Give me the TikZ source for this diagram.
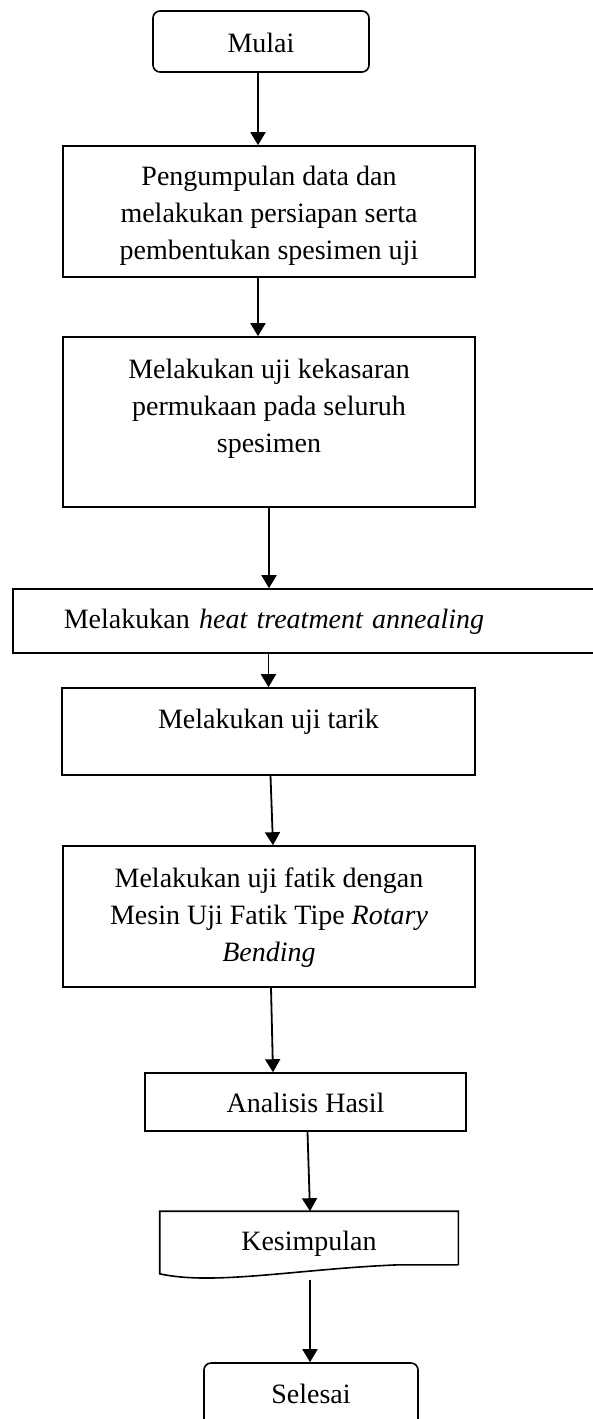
\documentclass[tikz,border=0pt]{standalone}
\usepackage{fontspec}
\setmainfont{Liberation Serif}
\usetikzlibrary{arrows.meta,calc}

\tikzset{
  box/.style={draw,line width=1.6pt,inner sep=0pt,align=center,
    font=\fontsize{28}{37}\selectfont},
  term/.style={box,rounded corners=7pt},
  flow/.style={-{Triangle[length=13pt,width=15pt]},line width=1.8pt}
}

\begin{document}
\begin{tikzpicture}[x=1pt,y=-1pt]
    \useasboundingbox (0,0) rectangle (592,1419);
    % Steps:
    \node[term,minimum width=216pt,text height=41pt,text depth=20pt] (start) at (261,41.5) {Mulai};
    \node[box,minimum width=412pt,text height=113pt,text depth=18pt] (collect) at (269,211.5)
      {Pengumpulan data dan\\melakukan persiapan serta\\pembentukan spesimen uji};
    \node[box,minimum width=412pt,text height=115pt,text depth=55pt] (rough) at (269,422)
      {Melakukan uji kekasaran\\permukaan pada seluruh\\spesimen};
    \node[box,anchor=west,text width=539pt,align=left,inner xsep=51pt,
      text height=39pt,text depth=25pt] (heat) at (12,621)
      {Melakukan \textit{heat treatment annealing}};
    \node[box,minimum width=413pt,text height=40pt,text depth=47pt] (tensile) at (268.5,731.5)
      {Melakukan uji tarik};
    \node[box,minimum width=412pt,text height=115pt,text depth=26pt] (fatigue) at (269,916.5)
      {Melakukan uji fatik dengan\\Mesin Uji Fatik Tipe \textit{Rotary}\\\textit{Bending}};
    \node[box,minimum width=321pt,text height=39pt,text depth=19pt] (analysis) at (305.5,1102)
      {Analisis Hasil};
    \node[box,draw=none,minimum width=297pt,text height=38pt,text depth=14pt] (concl) at (309,1238)
      {Kesimpulan};
    \node[term,minimum width=214pt,text height=40pt,text depth=37pt] (stop) at (311,1401.5)
      {Selesai};
    % Document outline:
    \draw[line width=1.6pt] (concl.south east) -- (concl.north east) -- (concl.north west)
      -- ($(concl.south west)+(0,9)$)
      .. controls ($(concl.south west)+(54,21)$) and ($(concl.south west)+(139,4)$)
      .. ($(concl.south west)+(239,0)$) -- (concl.south east);
    % Arrows:
    \draw[flow] ([xshift=-3pt]start.south) -- ([xshift=-3pt]start.south |- collect.north);
    \draw[flow] ([xshift=-11pt]collect.south) -- ([xshift=-11pt]rough.north);
    \draw[flow] (rough.south) -- (rough.south |- heat.north);
    \draw[flow] (tensile.north |- heat.south) -- (tensile.north);
    \draw[flow] ([xshift=2pt]tensile.south) -- ([xshift=4pt]fatigue.north);
    \draw[flow] ([xshift=2pt]fatigue.south) -- ([xshift=4pt]fatigue.south |- analysis.north);
    \draw[flow] ([xshift=2pt]analysis.south) -- ([xshift=1pt]concl.north);
    \draw[flow] ($(concl.south)+(1,15)$) -- ([xshift=-1pt]stop.north);
\end{tikzpicture}
\end{document}
